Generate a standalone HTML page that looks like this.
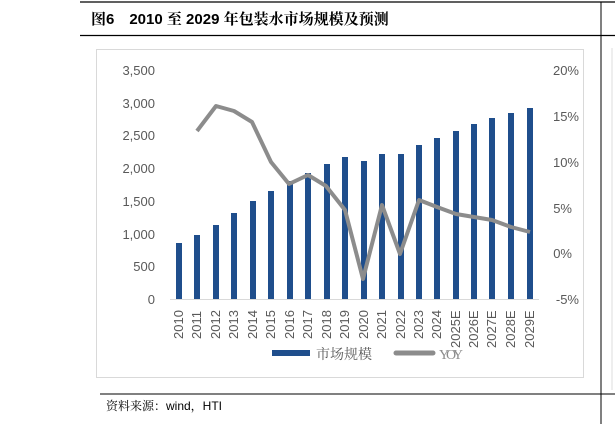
<!DOCTYPE html><html><head><meta charset="utf-8"><style>body{margin:0;background:#fff;width:615px;height:424px;overflow:hidden}</style></head><body>
<svg width="615" height="424" xmlns="http://www.w3.org/2000/svg" font-family="Liberation Sans, Noto Sans CJK SC, sans-serif">
<line x1="80" y1="2" x2="615" y2="2" stroke="#000" stroke-width="1.2"/>
<line x1="80" y1="35.5" x2="615" y2="35.5" stroke="#000" stroke-width="1.2"/>
<line x1="601" y1="2" x2="601" y2="424" stroke="#000" stroke-width="1"/>
<line x1="612" y1="48" x2="612" y2="390" stroke="#ddd" stroke-width="1"/>
<text x="91" y="24" font-size="15" font-weight="bold" font-family="Liberation Sans, Noto Serif CJK SC, serif">图6　2010 至 2029 年包装水市场规模及预测</text>
<rect x="96.5" y="49.5" width="487" height="328" fill="none" stroke="#d9d9d9" stroke-width="1"/>
<g font-size="13" fill="#595959" text-anchor="end">
<text x="155" y="75">3,500</text><text x="155" y="108">3,000</text><text x="155" y="140">2,500</text><text x="155" y="173">2,000</text><text x="155" y="206">1,500</text><text x="155" y="239">1,000</text><text x="155" y="271">500</text><text x="155" y="304">0</text>
<text x="579" y="75">20%</text><text x="579" y="121">15%</text><text x="579" y="167">10%</text><text x="572" y="213">5%</text><text x="572" y="258">0%</text><text x="579" y="304">-5%</text>
</g>
<line x1="170" y1="299.5" x2="539" y2="299.5" stroke="#d9d9d9"/>
<g fill="#1f4e8c">
<rect x="176" y="243" width="6" height="56"/><rect x="194" y="235" width="6" height="64"/><rect x="213" y="225" width="6" height="74"/><rect x="231" y="213" width="6" height="86"/><rect x="250" y="201" width="6" height="98"/><rect x="268" y="191" width="6" height="108"/><rect x="287" y="181" width="6" height="118"/><rect x="305" y="173" width="6" height="126"/><rect x="324" y="164" width="6" height="135"/><rect x="342" y="157" width="6" height="142"/><rect x="361" y="161" width="6" height="138"/><rect x="379" y="154" width="6" height="145"/><rect x="398" y="154" width="6" height="145"/><rect x="416" y="145" width="6" height="154"/><rect x="434" y="138" width="6" height="161"/><rect x="453" y="131" width="6" height="168"/><rect x="471" y="124" width="6" height="175"/><rect x="489" y="118" width="6" height="181"/><rect x="508" y="113" width="6" height="186"/><rect x="527" y="108" width="6" height="191"/>
</g>
<polyline fill="none" stroke="#8c8c8c" stroke-width="4" stroke-linejoin="round" points="197,131 216,106 234,111 252,122 271,162 289,184 308,175 326,186 345,210 363,279 382,205 400,254 419,200 437,207 456,214 474,217 492,220 511,227 530,232"/>
<g font-size="13" fill="#595959">
<text transform="translate(183,339) rotate(-90)">2010</text><text transform="translate(201,339) rotate(-90)">2011</text><text transform="translate(220,339) rotate(-90)">2012</text><text transform="translate(238,339) rotate(-90)">2013</text><text transform="translate(257,339) rotate(-90)">2014</text><text transform="translate(275,339) rotate(-90)">2015</text><text transform="translate(294,339) rotate(-90)">2016</text><text transform="translate(312,339) rotate(-90)">2017</text><text transform="translate(331,339) rotate(-90)">2018</text><text transform="translate(349,339) rotate(-90)">2019</text><text transform="translate(368,339) rotate(-90)">2020</text><text transform="translate(386,339) rotate(-90)">2021</text><text transform="translate(405,339) rotate(-90)">2022</text><text transform="translate(423,339) rotate(-90)">2023</text><text transform="translate(441,339) rotate(-90)">2024</text><text transform="translate(460,348) rotate(-90)">2025E</text><text transform="translate(478,348) rotate(-90)">2026E</text><text transform="translate(496,348) rotate(-90)">2027E</text><text transform="translate(515,348) rotate(-90)">2028E</text><text transform="translate(534,348) rotate(-90)">2029E</text>
</g>
<rect x="272" y="350" width="38" height="6" fill="#1f4e8c"/>
<text x="316" y="359" font-size="14" fill="#595959" font-family="Noto Serif CJK SC, serif">市场规模</text>
<line x1="396" y1="353" x2="433" y2="353" stroke="#8c8c8c" stroke-width="5" stroke-linecap="round"/>
<text x="439" y="359" font-size="14" fill="#8c8c8c" font-family="Liberation Serif, serif" textLength="24">YOY</text>
<line x1="100" y1="394" x2="615" y2="394" stroke="#000" stroke-width="1"/>
<text x="106" y="410" font-size="12" fill="#000" font-family="Liberation Sans, Noto Serif CJK SC, sans-serif">资料来源：wind，HTI</text>
</svg>
</body></html>
